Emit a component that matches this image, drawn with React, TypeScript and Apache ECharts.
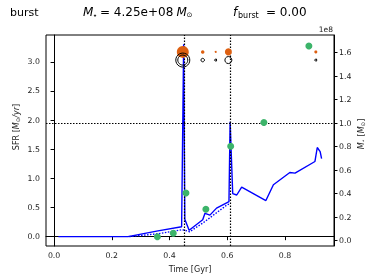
import React, { useEffect, useRef } from "react";
import * as echarts from "echarts";

// ---- data ----
const sfrTime = [0.015, 0.256, 0.36, 0.442, 0.449, 0.453, 0.468, 0.515, 0.523, 0.54, 0.563, 0.598, 0.606, 0.61, 0.619, 0.633, 0.65, 0.734, 0.76, 0.817, 0.835, 0.904, 0.912, 0.922, 0.927];
const sfrValue = [0, 0, 0.1, 0.17, 3.3, 0.3, 0.11, 0.29, 0.4, 0.37, 0.49, 0.58, 0.6, 1.97, 0.74, 0.715, 0.85, 0.62, 0.89, 1.1, 1.09, 1.29, 1.53, 1.46, 1.34];

const sfrAvgTime = [0.26, 0.36, 0.445, 0.47, 0.517, 0.598, 0.606];
const sfrAvgValue = [0, 0.05, 0.12, 0.085, 0.24, 0.54, 0.56];

const greenTime = [0.358, 0.413, 0.457, 0.526, 0.612, 0.727, 0.883];
const greenValue = [0.0, 0.06, 0.75, 0.47, 1.55, 1.96, 3.27];

const orangeTime = [0.446, 0.515, 0.56, 0.604, 0.907];
const orangeSize = [12, 3.5, 2, 7, 3];
const orangeLevel = 3.17;

const ringTime = [0.446, 0.446, 0.515, 0.56, 0.604, 0.907];
const ringSize = [14, 10, 3.5, 2, 7, 2];
const ringLevel = 3.03;

const burstTimes = [0.45, 0.61];
const massLevel = 1.0; // 1e8 Msun

const xTicks = [0, 0.2, 0.4, 0.6, 0.8];
const yLeftTicks = [0, 0.5, 1.0, 1.5, 2.0, 2.5, 3.0];
const yRightTicks = [0, 0.2, 0.4, 0.6, 0.8, 1.0, 1.2, 1.4, 1.6];

const FONT = "DejaVu Sans";

export default function App() {
  const ref = useRef<HTMLDivElement>(null);
  useEffect(() => {
    if (!ref.current) return;
    const chart = echarts.init(ref.current, undefined, { renderer: "svg" });
    const axisCommon = {
      axisLine: { show: true, lineStyle: { color: "#000", width: 1 } },
      axisTick: { show: true, inside: false, length: 3.5, lineStyle: { color: "#000" } },
      splitLine: { show: false },
    };
    const labelStyle = { color: "#222", fontFamily: FONT, fontSize: 7.8 };
    const option: any = {
      animation: false,
      grid: { left: 46, right: 39, top: 35, bottom: 34, show: true, borderColor: "#000", borderWidth: 1, containLabel: false },
      xAxis: {
        type: "value",
        min: -0.028,
        max: 0.97,
        ...axisCommon,
        axisTick: { ...axisCommon.axisTick, customValues: xTicks },
        axisLabel: { ...labelStyle, margin: 5, customValues: xTicks, formatter: (v: number) => v.toFixed(1) },
        name: "Time [Gyr]",
        nameLocation: "middle",
        nameGap: 19,
        nameTextStyle: { fontFamily: FONT, fontSize: 8, color: "#222" },
      },
      yAxis: [
        {
          type: "value",
          min: -0.16,
          max: 3.46,
          position: "left",
          ...axisCommon,
          axisTick: { ...axisCommon.axisTick, customValues: yLeftTicks },
          axisLabel: { ...labelStyle, margin: 6, customValues: yLeftTicks, formatter: (v: number) => v.toFixed(1) },
        },
        {
          type: "value",
          min: -0.045,
          max: 1.75,
          position: "right",
          ...axisCommon,
          axisTick: { ...axisCommon.axisTick, customValues: yRightTicks },
          axisLabel: { ...labelStyle, margin: 5, customValues: yRightTicks, formatter: (v: number) => v.toFixed(1) },
        },
      ],
      series: [
        {
          type: "line",
          data: sfrAvgTime.map((t, i) => [t, sfrAvgValue[i]]),
          showSymbol: false,
          symbol: "none",
          lineStyle: { color: "#0000ff", width: 1.4, type: [1.5, 1.5] },
          z: 3,
        },
        {
          type: "line",
          data: sfrTime.map((t, i) => [t, sfrValue[i]]),
          showSymbol: false,
          symbol: "none",
          lineStyle: { color: "#0000ff", width: 1.4 },
          z: 4,
          markLine: {
            silent: true,
            symbol: "none",
            label: { show: false },
            lineStyle: { color: "#000", type: [1.5, 1.5], width: 1.2 },
            data: burstTimes.map((t) => ({ xAxis: t })),
            z: 5,
          },
        },
        {
          type: "line",
          yAxisIndex: 1,
          data: [[0.0, massLevel]],
          showSymbol: false,
          symbol: "none",
          lineStyle: { opacity: 0 },
          markLine: {
            silent: true,
            symbol: "none",
            label: { show: false },
            lineStyle: { color: "#000", type: [1.5, 1.5], width: 1.2 },
            data: [{ yAxis: massLevel }],
          },
        },
        {
          type: "scatter",
          data: greenTime.map((t, i) => [t, greenValue[i]]),
          symbolSize: 7,
          itemStyle: { color: "#3cb46a", opacity: 1 },
          z: 6,
        },
        {
          type: "scatter",
          data: orangeTime.map((t, i) => [t, orangeLevel, orangeSize[i]]),
          symbolSize: (d: number[]) => d[2],
          itemStyle: { color: "#dd5f10", opacity: 1 },
          z: 6,
        },
        {
          type: "scatter",
          data: ringTime.map((t, i) => [t, ringLevel, ringSize[i]]),
          symbolSize: (d: number[]) => d[2],
          itemStyle: { color: "none", borderColor: "#000", borderWidth: 1, opacity: 1 },
          z: 6,
        },
      ],
      graphic: [
        { type: "text", x: 10, y: 12, style: { text: "burst", font: `11px "${FONT}"`, fill: "#000", verticalAlign: "middle" } },
        { type: "text", x: 83, y: 12, style: { text: "M", font: `italic 12px "${FONT}"`, fill: "#000", verticalAlign: "middle" } },
        { type: "text", x: 92.5, y: 15, style: { text: "⋆", font: `8px "${FONT}"`, fill: "#000", verticalAlign: "middle" } },
        { type: "text", x: 100, y: 12, style: { text: "= 4.25e+08", font: `12px "${FONT}"`, fill: "#000", verticalAlign: "middle" } },
        { type: "text", x: 176.5, y: 12, style: { text: "M", font: `italic 12px "${FONT}"`, fill: "#000", verticalAlign: "middle" } },
        { type: "text", x: 186.5, y: 15, style: { text: "⊙", font: `7px "${FONT}"`, fill: "#000", verticalAlign: "middle" } },
        { type: "text", x: 233, y: 12, style: { text: "f", font: `italic 12px "${FONT}"`, fill: "#000", verticalAlign: "middle" } },
        { type: "text", x: 238, y: 15, style: { text: "burst", font: `8px "${FONT}"`, fill: "#000", verticalAlign: "middle" } },
        { type: "text", x: 266, y: 12, style: { text: "= 0.00", font: `12px "${FONT}"`, fill: "#000", verticalAlign: "middle" } },
        { type: "text", x: 333, y: 29, style: { text: "1e8", font: `7.5px "${FONT}"`, fill: "#222", align: "right", verticalAlign: "middle" } },
        {
          type: "text",
          x: 16,
          y: 127,
          rotation: Math.PI / 2,
          style: {
            text: "SFR [{i|M}{s|⊙}{i|/yr}]",
            font: `8px "${FONT}"`,
            fill: "#222",
            align: "center",
            verticalAlign: "middle",
            rich: { i: { fontStyle: "italic", fontSize: 8, fontFamily: FONT, fill: "#222" }, s: { fontSize: 5.5, fontFamily: FONT, fill: "#222", padding: [4, 0, 0, 0] } },
          },
        },
        {
          type: "text",
          x: 361,
          y: 134,
          rotation: Math.PI / 2,
          style: {
            text: "{i|M}{s|⋆} [{i|M}{s|⊙}]",
            font: `8px "${FONT}"`,
            fill: "#222",
            align: "center",
            verticalAlign: "middle",
            rich: { i: { fontStyle: "italic", fontSize: 8, fontFamily: FONT, fill: "#222" }, s: { fontSize: 5.5, fontFamily: FONT, fill: "#222", padding: [4, 0, 0, 0] } },
          },
        },
      ],
    };
    chart.setOption(option);
    return () => chart.dispose();
  }, []);
  return <div ref={ref} style={{ position: "fixed", left: 0, top: 0, width: 373, height: 280 }} />;
}
